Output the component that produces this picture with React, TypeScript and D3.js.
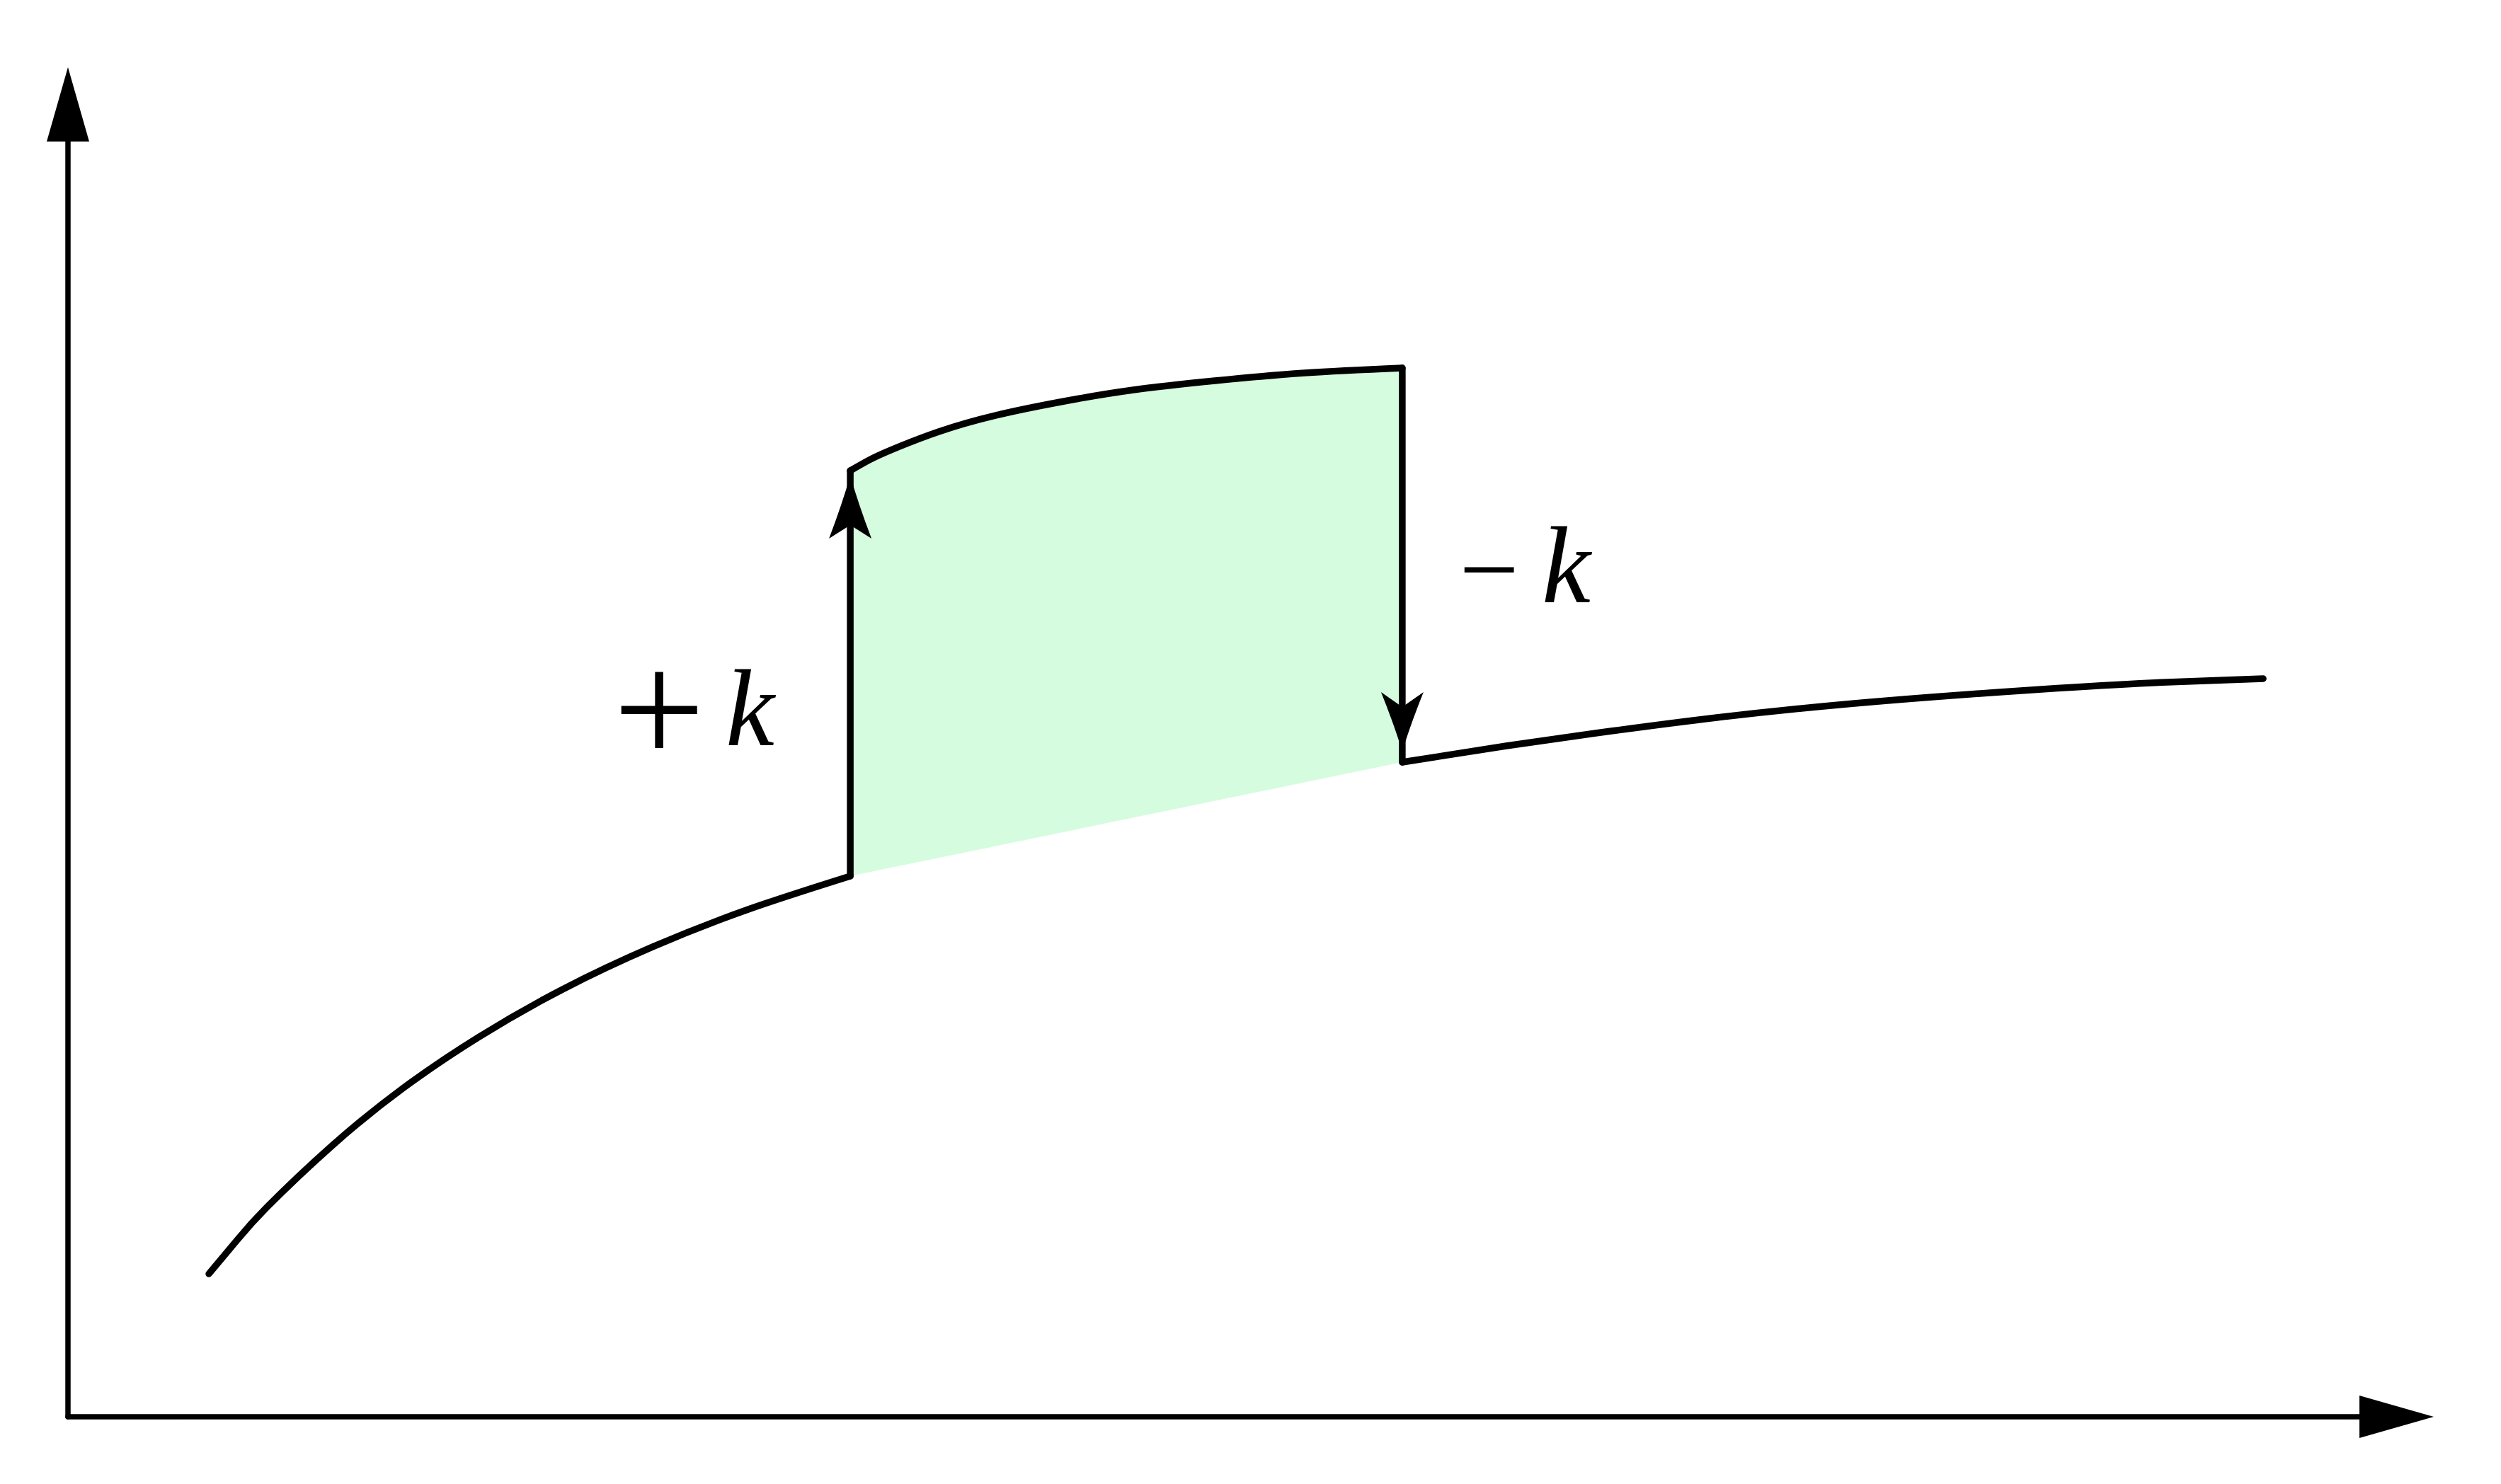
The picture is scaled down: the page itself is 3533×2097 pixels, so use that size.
import React from 'react';
import * as d3 from 'd3';

// Curve samples in chart units (x: 0..100 along the x axis, y: 0..100 along the y axis)
const lowerX = [6.15, 7.39, 8.68, 11.52, 14.61, 17.95, 21.59, 25.52, 29.69, 34.14];
const lowerY = [11.21, 13.87, 16.43, 21.25, 25.75, 29.8, 33.52, 36.85, 39.79, 42.4];
const upperX = [34.14, 34.96, 35.9, 38.0, 40.47, 43.31, 46.49, 50.05, 53.97, 58.23];
const upperY = [74.19, 75.02, 75.8, 77.25, 78.52, 79.58, 80.52, 81.24, 81.85, 82.24];
const rightX = [58.23, 62.77, 67.35, 71.95, 76.61, 81.34, 86.13, 90.92, 95.8];
const rightY = [51.33, 52.61, 53.77, 54.83, 55.72, 56.44, 57.05, 57.55, 57.88];
const upLabel = ['+', 'k'];
const downLabel = ['\u2212', 'k'];

const W = 3533;
const H = 2097;

const zip = (xs: number[], ys: number[]) => xs.map((x, i) => [x, ys[i]] as [number, number]);

export default function App() {
  const x = d3.scaleLinear().domain([0, 100]).range([96, 3333]);
  const y = d3.scaleLinear().domain([0, 100]).range([2002, 200]);

  const line = d3
    .line<[number, number]>()
    .x((d) => x(d[0]))
    .y((d) => y(d[1]))
    .curve(d3.curveNatural);

  const lower = zip(lowerX, lowerY);
  const upper = zip(upperX, upperY);
  const right = zip(rightX, rightY);

  const upStart = lower[lower.length - 1];
  const upEnd = upper[0];
  const downStart = upper[upper.length - 1];
  const downEnd = right[0];

  const fillPath =
    (line(upper) as string) +
    `L${x(downEnd[0])},${y(downEnd[1])}L${x(upStart[0])},${y(upStart[1])}Z`;

  const stroke = 9.5;
  const axisStroke = 7.5;

  // arrowhead (stealth-like) pointing along (dx,dy) ending at tip
  const stealth = (tx: number, ty: number, dx: number, dy: number, L: number, hw: number, notch: number) => {
    const nx = -dy;
    const ny = dx;
    const bx = tx - dx * L;
    const by = ty - dy * L;
    const mx = tx - dx * (L - notch);
    const my = ty - dy * (L - notch);
    const c1x = tx - dx * L * 0.45 + nx * hw * 0.38;
    const c1y = ty - dy * L * 0.45 + ny * hw * 0.38;
    const c2x = tx - dx * L * 0.45 - nx * hw * 0.38;
    const c2y = ty - dy * L * 0.45 - ny * hw * 0.38;
    return `M${tx},${ty}Q${c1x},${c1y} ${bx + nx * hw},${by + ny * hw}L${mx},${my}L${bx - nx * hw},${by - ny * hw}Q${c2x},${c2y} ${tx},${ty}Z`;
  };

  const upX = x(upStart[0]);
  const upTipY = y(upEnd[1]) + 7;
  const downX = x(downStart[0]);
  const downTipY = y(downEnd[1]) - 15;

  const xAxisEnd = x(100);
  const yAxisEnd = y(100);
  const headLen = 105;
  const headHW = 30;

  const labelFont = 'Liberation Serif, Times New Roman, serif';

  return (
    <svg
      width={W}
      height={H}
      viewBox={`0 0 ${W} ${H}`}
      style={{ position: 'absolute', left: 0, top: 0, background: '#ffffff' }}
    >
      <rect x={0} y={0} width={W} height={H} fill="#ffffff" />
      {/* shaded region */}
      <path d={fillPath} fill="#d6fce0" stroke="none" />

      {/* axes */}
      <line x1={x(0)} y1={y(0)} x2={xAxisEnd} y2={y(0)} stroke="#000" strokeWidth={axisStroke} strokeLinecap="round" />
      <line x1={x(0)} y1={y(0)} x2={x(0)} y2={yAxisEnd} stroke="#000" strokeWidth={axisStroke} strokeLinecap="round" />
      <path
        d={`M${xAxisEnd + headLen},${y(0)}L${xAxisEnd},${y(0) - headHW}L${xAxisEnd},${y(0) + headHW}Z`}
        fill="#000"
      />
      <path
        d={`M${x(0)},${yAxisEnd - headLen}L${x(0) - headHW},${yAxisEnd}L${x(0) + headHW},${yAxisEnd}Z`}
        fill="#000"
      />

      {/* curves */}
      <g fill="none" stroke="#000" strokeWidth={stroke} strokeLinecap="round" strokeLinejoin="round">
        <path d={line(lower) as string} />
        <path d={line(upper) as string} />
        <path d={line(right) as string} />
        <line x1={upX} y1={y(upStart[1])} x2={upX} y2={y(upEnd[1])} />
        <line x1={downX} y1={y(downStart[1])} x2={downX} y2={y(downEnd[1])} />
      </g>

      {/* jump arrowheads */}
      <path d={stealth(upX, upTipY, 0, -1, 89, 30, 19)} fill="#000" />
      <path d={stealth(downX, downTipY, 0, 1, 84, 30, 21)} fill="#000" />

      {/* labels */}
      <text x={upX - 270} y={y(upStart[1]) - 158} fontFamily={labelFont} fontSize={230} textAnchor="middle">
        {upLabel[0]}
      </text>
      <text x={upX - 176} y={y(upStart[1]) - 185} fontFamily={labelFont} fontStyle="italic" fontSize={155}>
        {upLabel[1]}
      </text>
      <text x={downX + 123} y={y(downEnd[1]) - 222} fontFamily={labelFont} fontSize={150} textAnchor="middle">
        {downLabel[0]}
      </text>
      <text x={downX + 197} y={y(downEnd[1]) - 226} fontFamily={labelFont} fontStyle="italic" fontSize={155}>
        {downLabel[1]}
      </text>
    </svg>
  );
}
